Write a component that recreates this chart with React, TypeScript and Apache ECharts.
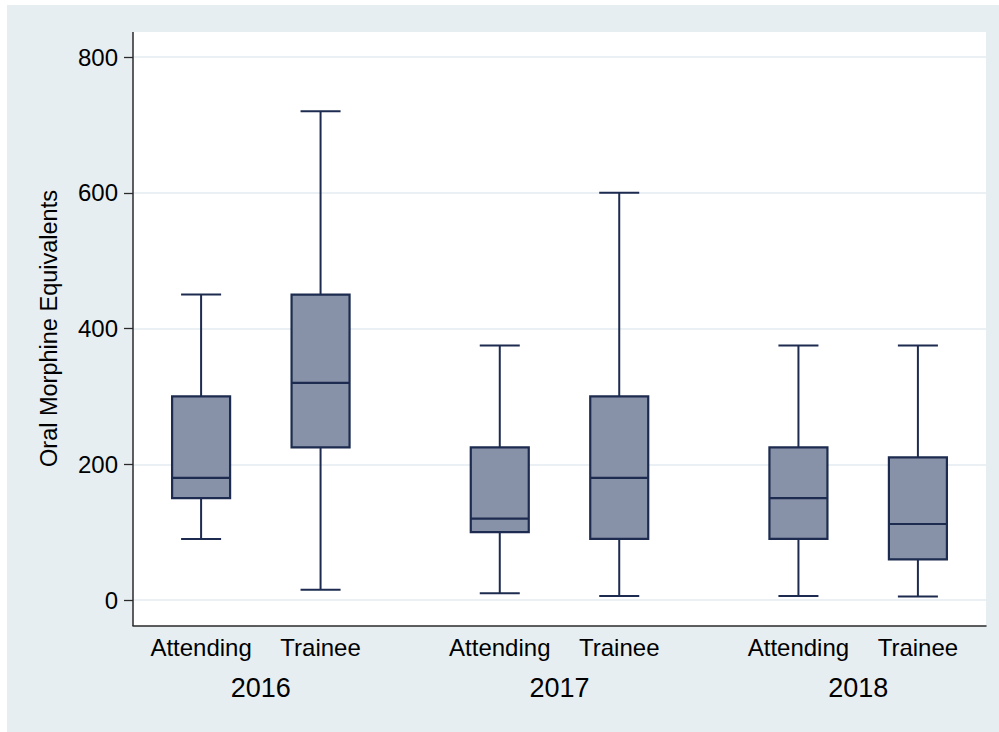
import React, { useEffect, useRef } from "react";
import * as echarts from "echarts";

const years = ["2016", "2017", "2018"];
const roles = ["Attending", "Trainee"];
// one entry per box: 2016 Attending, 2016 Trainee, 2017 Attending, 2017 Trainee, 2018 Attending, 2018 Trainee
const lowWhisker = [90, 15, 10, 6, 6, 5];
const q1 = [150, 225, 100, 90, 90, 60];
const median = [180, 320, 120, 180, 150, 112];
const q3 = [300, 450, 225, 300, 225, 210];
const highWhisker = [450, 720, 375, 600, 375, 375];
const yTicks = [0, 200, 400, 600, 800];

const GROUP_STEP = 2.5;
const BOX_W = 0.4855;
const CAP_W = 0.335;
const STROKE = "#1c2b4f";
const FILL = "#8791a7";

export default function App() {
  const ref = useRef<HTMLDivElement>(null);
  useEffect(() => {
    if (!ref.current) return;
    const chart = echarts.init(ref.current, undefined, { renderer: "svg" });

    const positions: number[] = [];
    const labels: string[] = [];
    years.forEach((_, g) =>
      roles.forEach((r, m) => {
        positions.push(g * GROUP_STEP + m);
        labels.push(r);
      })
    );
    const yearPos = years.map((_, g) => g * GROUP_STEP + 0.5);
    const data = positions.map((p, i) => [p, lowWhisker[i], q1[i], median[i], q3[i], highWhisker[i]]);

    const font = "'Liberation Sans', Arial, Helvetica, sans-serif";

    chart.setOption({
      animation: false,
      graphic: [
        { type: "rect", z: -20, silent: true, shape: { x: 7, y: 5, width: 992, height: 727 }, style: { fill: "#e7eef2" } },
        { type: "rect", z: -10, silent: true, shape: { x: 133, y: 32, width: 853, height: 594 }, style: { fill: "#ffffff" } },
        { type: "line", z: 100, silent: true, shape: { x1: 133, y1: 32, x2: 133, y2: 626 }, style: { stroke: "#2a2a2a", lineWidth: 1.5 } },
      ],
      grid: { left: 133, right: 13, top: 57, bottom: 132, containLabel: false },
      xAxis: [
        {
          type: "value",
          position: "bottom",
          min: -0.57,
          max: 6.57,
          offset: 26,
          axisLine: { show: true, onZero: false, lineStyle: { color: "#2a2a2a", width: 1.5 } },
          axisTick: { show: false },
          splitLine: { show: false },
          axisLabel: {
            customValues: positions,
            formatter: (v: number) => {
              const i = positions.findIndex((p) => Math.abs(p - v) < 1e-6);
              return i >= 0 ? labels[i] : "";
            },
            margin: 9,
            fontSize: 24,
            color: "#000",
            fontFamily: font,
          },
        },
        {
          type: "value",
          position: "bottom",
          min: -0.57,
          max: 6.57,
          offset: 26,
          axisLine: { show: false, onZero: false },
          axisTick: { show: false },
          splitLine: { show: false },
          axisLabel: {
            customValues: yearPos,
            formatter: (v: number) => {
              const i = yearPos.findIndex((p) => Math.abs(p - v) < 1e-6);
              return i >= 0 ? years[i] : "";
            },
            margin: 48,
            fontSize: 27,
            color: "#000",
            fontFamily: font,
          },
        },
      ],
      yAxis: {
        type: "value",
        min: yTicks[0],
        max: yTicks[yTicks.length - 1],
        interval: 200,
        name: "Oral Morphine Equivalents",
        nameLocation: "middle",
        nameRotate: 90,
        nameGap: 72,
        nameTextStyle: { fontSize: 23.5, color: "#000", fontFamily: font },
        axisLine: { show: false, onZero: false },
        axisTick: { show: true, length: 9, lineStyle: { color: "#2a2a2a", width: 1.3 } },
        axisLabel: { margin: 15, fontSize: 24, color: "#000", fontFamily: font },
        splitLine: { show: true, lineStyle: { color: "#e3ebef", width: 1.5 } },
      },
      series: [
        {
          type: "custom",
          xAxisIndex: 0,
          yAxisIndex: 0,
          clip: false,
          encode: { x: 0, y: [1, 2, 3, 4, 5] },
          data,
          renderItem: (params: any, api: any) => {
            const x = api.value(0);
            const lo = api.coord([x, api.value(1)]);
            const a = api.coord([x, api.value(2)]);
            const md = api.coord([x, api.value(3)]);
            const b = api.coord([x, api.value(4)]);
            const hi = api.coord([x, api.value(5)]);
            const bw = api.size([BOX_W, 0])[0];
            const cw = api.size([CAP_W, 0])[0];
            const cx = lo[0];
            const lineStyle = { stroke: STROKE, lineWidth: 2 };
            return {
              type: "group",
              children: [
                { type: "line", shape: { x1: cx, y1: lo[1], x2: cx, y2: a[1] }, style: lineStyle },
                { type: "line", shape: { x1: cx, y1: b[1], x2: cx, y2: hi[1] }, style: lineStyle },
                { type: "line", shape: { x1: cx - cw / 2, y1: lo[1], x2: cx + cw / 2, y2: lo[1] }, style: lineStyle },
                { type: "line", shape: { x1: cx - cw / 2, y1: hi[1], x2: cx + cw / 2, y2: hi[1] }, style: lineStyle },
                {
                  type: "rect",
                  shape: { x: cx - bw / 2, y: b[1], width: bw, height: a[1] - b[1] },
                  style: { fill: FILL, stroke: STROKE, lineWidth: 2.2 },
                },
                { type: "line", shape: { x1: cx - bw / 2, y1: md[1], x2: cx + bw / 2, y2: md[1] }, style: { stroke: STROKE, lineWidth: 2.2 } },
              ],
            };
          },
        },
      ],
    });
    return () => chart.dispose();
  }, []);
  return <div ref={ref} style={{ position: "absolute", left: 0, top: 0, width: 999, height: 732 }} />;
}
